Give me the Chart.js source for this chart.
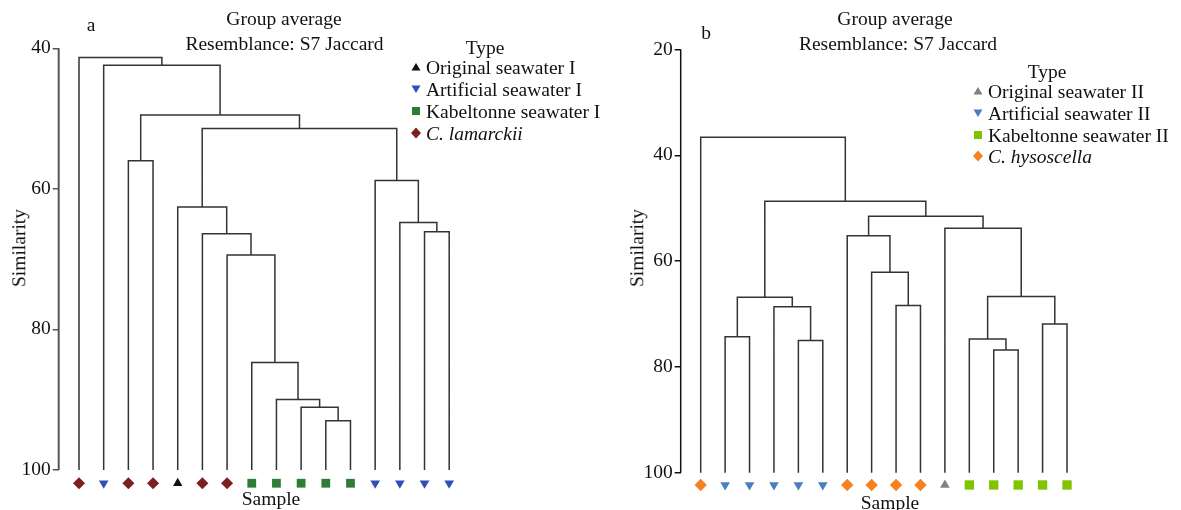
<!DOCTYPE html>
<html>
<head>
<meta charset="utf-8">
<script src="https://cdn.jsdelivr.net/npm/chart.js@4.4.1/dist/chart.umd.min.js"></script>
<style>
  body { margin: 0; width: 1181px; height: 510px; position: relative; overflow: hidden; background: #fff;
         font-family: "Liberation Serif", "Times New Roman", serif; color: #111; }
  canvas { position: absolute; top: 0; }
  .t { position: absolute; font-size: 19.5px; line-height: 1; white-space: nowrap; }
  .c { transform: translate(-50%, -50%); }
  .l { transform: translateY(-50%); }
  .v { transform: translate(-50%, -50%) rotate(-90deg); }
  .mk { position: absolute; transform: translate(-50%, -50%); display: block; }
  i { font-style: italic; }
</style>
</head>
<body>
<canvas id="chartA" width="590" height="510" style="left:0"></canvas>
<canvas id="chartB" width="591" height="510" style="left:590px"></canvas>

<div class="t c" style="left:91px;top:25px">a</div>
<div class="t c" style="left:284px;top:18.5px">Group average</div>
<div class="t c" style="left:284.5px;top:43.5px">Resemblance: S7 Jaccard</div>
<div class="t c" style="left:485px;top:47.5px">Type</div>
<div id="legendA"></div>
<div class="t v" style="left:19px;top:248px">Similarity</div>
<div class="t c" style="left:271px;top:499px">Sample</div>

<div class="t c" style="left:706px;top:33px">b</div>
<div class="t c" style="left:895px;top:18.5px">Group average</div>
<div class="t c" style="left:898px;top:43.5px">Resemblance: S7 Jaccard</div>
<div class="t c" style="left:1047px;top:72px">Type</div>
<div id="legendB"></div>
<div class="t v" style="left:637px;top:248px">Similarity</div>
<div class="t c" style="left:890px;top:503px">Sample</div>

<script>
// sample types in plotted order, left to right
const leavesA = ['lam', 'art', 'lam', 'lam', 'ori', 'lam', 'lam', 'kab', 'kab', 'kab', 'kab', 'kab', 'art', 'art', 'art', 'art'];
const leavesB = ['hys', 'art', 'art', 'art', 'art', 'art', 'hys', 'hys', 'hys', 'hys', 'ori', 'kab', 'kab', 'kab', 'kab', 'kab'];

// merges: [child, child, similarity]; 0-15 are samples, 16+ are earlier merges
const mergesA = [
  [10, 11, 93.0], [9, 16, 91.1], [8, 17, 90.0], [7, 18, 84.7], [6, 19, 69.4],
  [5, 20, 66.4], [14, 15, 66.1], [13, 22, 64.8], [4, 21, 62.6], [12, 23, 58.8],
  [2, 3, 56.0], [24, 25, 51.4], [26, 27, 49.5], [1, 28, 42.4], [0, 29, 41.3]
];
const mergesB = [
  [12, 13, 76.8], [4, 5, 75.0], [11, 16, 74.7], [1, 2, 74.3], [14, 15, 71.9],
  [3, 17, 68.6], [8, 9, 68.4], [19, 21, 66.8], [18, 20, 66.7], [7, 22, 62.1],
  [6, 25, 55.2], [10, 24, 53.8], [26, 27, 51.5], [23, 28, 48.7], [0, 29, 36.6]
];

const yTicksA = [40, 60, 80, 100];
const yTicksB = [20, 40, 60, 80, 100];

const typesA = [
  { key: 'ori', label: 'Original seawater I' },
  { key: 'art', label: 'Artificial seawater I' },
  { key: 'kab', label: 'Kabeltonne seawater I' },
  { key: 'lam', label: 'C. lamarckii', italic: true }
];
const typesB = [
  { key: 'ori', label: 'Original seawater II' },
  { key: 'art', label: 'Artificial seawater II' },
  { key: 'kab', label: 'Kabeltonne seawater II' },
  { key: 'hys', label: 'C. hysoscella', italic: true }
];

// marker looks
const looks = {
  A: {
    ori: { style: 'triangle', rot: 0, color: '#111111', r: 5.4 },
    art: { style: 'triangle', rot: 180, color: '#2f4fb5', r: 5.6 },
    kab: { style: 'rect', rot: 0, color: '#2f7d34', r: 6.2 },
    lam: { style: 'rectRot', rot: 0, color: '#7b1f20', r: 6 }
  },
  B: {
    ori: { style: 'triangle', rot: 0, color: '#808080', r: 5.6 },
    art: { style: 'triangle', rot: 180, color: '#4a7ebf', r: 5.6 },
    kab: { style: 'rect', rot: 0, color: '#80c400', r: 6.6 },
    hys: { style: 'rectRot', rot: 0, color: '#f5821f', r: 6.2 }
  }
};

function dendroLines(leaves, merges) {
  const pos = leaves.map((t, i) => ({ x: i + 1, y: 100 }));
  const pts = [];
  merges.forEach(([a, b, h]) => {
    const p = pos[a], q = pos[b];
    pts.push({ x: p.x, y: p.y }, { x: p.x, y: h }, { x: q.x, y: h }, { x: q.x, y: q.y }, { x: q.x, y: null });
    pos.push({ x: (p.x + q.x) / 2, y: h });
  });
  return pts;
}

// the y axis line only runs over the tick range, markers sit below it
const axisLine = {
  id: 'axisLine',
  afterDraw(chart, args, o) {
    const s = chart.scales.y, ctx = chart.ctx;
    ctx.save();
    ctx.strokeStyle = o.color;
    ctx.lineWidth = o.width;
    ctx.beginPath();
    ctx.moveTo(s.right, s.getPixelForValue(o.from));
    ctx.lineTo(s.right, s.getPixelForValue(o.to));
    ctx.stroke();
    ctx.restore();
  }
};

function makeChart(id, leaves, merges, yTicks, look, lay) {
  const markers = Object.keys(look).map(key => ({
    data: leaves.map((t, i) => t === key ? { x: i + 1, y: lay.markerY } : null).filter(Boolean),
    showLine: false,
    pointStyle: look[key].style,
    pointRotation: look[key].rot,
    pointRadius: look[key].r,
    pointBackgroundColor: look[key].color,
    pointBorderWidth: 0,
    clip: false
  }));
  const canvas = document.getElementById(id);
  const w = canvas.width;
  const areaRight = lay.areaLeft + lay.areaWidth;
  const yMin = yTicks[0], yTop = yTicks[yTicks.length - 1];
  const ppu = (lay.bottom - lay.top) / (yTop - yMin);
  const areaBottom = 505;
  const yMax = yTop + (areaBottom - lay.bottom) / ppu;
  return new Chart(canvas, {
    type: 'line',
    data: {
      datasets: [{
        data: dendroLines(leaves, merges),
        borderColor: '#333',
        borderWidth: 1.5,
        pointRadius: 0,
        spanGaps: false,
        clip: false
      }, ...markers]
    },
    plugins: [axisLine],
    options: {
      responsive: false,
      animation: false,
      devicePixelRatio: 1,
      layout: { padding: { left: 0, top: lay.top, right: w - areaRight, bottom: 510 - areaBottom } },
      plugins: {
        legend: { display: false },
        tooltip: { enabled: false },
        axisLine: { color: lay.axisColor, width: lay.axisWidth, from: yMin, to: yTop }
      },
      scales: {
        x: {
          type: 'linear', display: false,
          min: 1 - (lay.firstLeaf - lay.areaLeft) / lay.step,
          max: 1 + (areaRight - lay.firstLeaf) / lay.step
        },
        y: {
          type: 'linear', reverse: true,
          min: yMin, max: yMax,
          afterBuildTicks: s => { s.ticks = yTicks.map(v => ({ value: v })); },
          afterFit: s => { s.width = lay.areaLeft; s.paddingTop = 0; s.paddingBottom = 0; },
          grid: { drawOnChartArea: false, drawTicks: true, tickLength: 6, color: lay.axisColor, lineWidth: 1.5 },
          border: { display: false },
          ticks: { color: '#111', padding: 2, font: { family: 'Liberation Serif', size: 19.5 } }
        }
      }
    }
  });
}

makeChart('chartA', leavesA, mergesA, yTicksA, looks.A,
  { areaLeft: 58.7, areaWidth: 500, top: 48.3, bottom: 471, firstLeaf: 79, step: 24.68, markerY: 101.9, axisColor: '#555', axisWidth: 2 });
makeChart('chartB', leavesB, mergesB, yTicksB, looks.B,
  { areaLeft: 90.7, areaWidth: 480, top: 49.5, bottom: 474.3, firstLeaf: 110.7, step: 24.42, markerY: 102.3, axisColor: '#111', axisWidth: 1.5 });

// legends
function markerSvg(l) {
  const s = 12;
  let shape;
  if (l.style === 'triangle') {
    shape = l.rot ? `<polygon points="1.5,2.5 10.5,2.5 6,10" fill="${l.color}"/>`
                  : `<polygon points="6,2 10.5,9.5 1.5,9.5" fill="${l.color}"/>`;
  } else if (l.style === 'rect') {
    shape = `<rect x="2" y="2" width="8" height="8" fill="${l.color}"/>`;
  } else {
    shape = `<polygon points="6,0.5 11,6 6,11.5 1,6" fill="${l.color}"/>`;
  }
  return `<svg width="${s}" height="${s}">${shape}</svg>`;
}
function buildLegend(elId, types, look, markX, textX, rows) {
  const el = document.getElementById(elId);
  types.forEach((t, i) => {
    const y = rows[i];
    el.insertAdjacentHTML('beforeend',
      `<span class="mk" style="left:${markX}px;top:${y}px">${markerSvg(look[t.key])}</span>` +
      `<div class="t l" style="left:${textX}px;top:${y}px">${t.italic ? '<i>' + t.label + '</i>' : t.label}</div>`);
  });
}
buildLegend('legendA', typesA, looks.A, 416, 426, [68, 90, 112.3, 134.3]);
buildLegend('legendB', typesB, looks.B, 977.5, 988, [92.3, 113.5, 136, 157.3]);
</script>
</body>
</html>
